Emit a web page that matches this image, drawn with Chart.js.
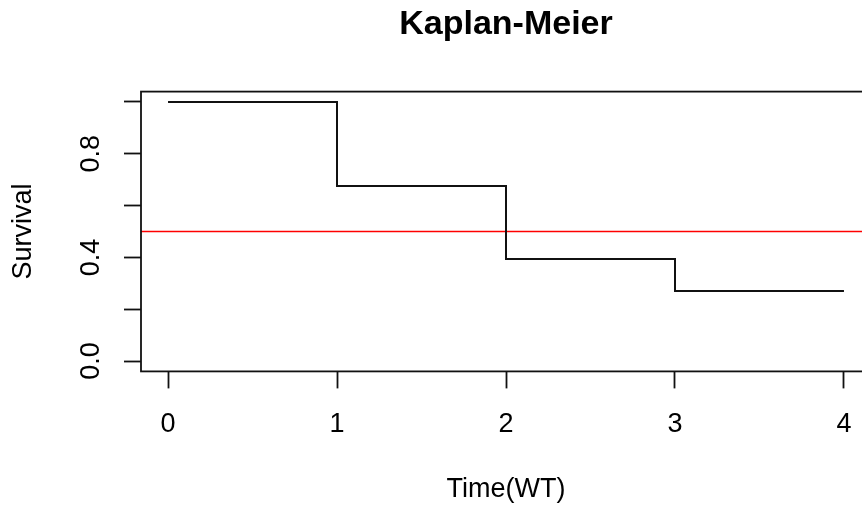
<!DOCTYPE html>
<html>
<head>
<meta charset="utf-8">
<script src="https://cdn.jsdelivr.net/npm/chart.js@4.4.1/dist/chart.umd.min.js"></script>
<style>
  html, body { margin: 0; padding: 0; overflow: hidden; background: #fff; width: 862px; height: 509px; }
  #wrap { position: absolute; left: 0; top: 0; width: 880px; height: 509px; }
</style>
</head>
<body>
<div id="wrap"><canvas id="c"></canvas></div>
<script>
// ---- data ----
const times = [0, 1, 2, 3, 4];
const survival = [1.0, 0.676, 0.394, 0.270, 0.270];
const medianLevel = 0.5;
const xTicks = [0, 1, 2, 3, 4];
const xTickLabels = ['0', '1', '2', '3', '4'];
const yTicks = [0, 0.2, 0.4, 0.6, 0.8, 1.0];
const yTickLabels = ['0.0', '', '0.4', '', '0.8', ''];
const xLimits = [-0.16, 4.16];
const yLimits = [-0.04, 1.04];
const chartTitle = 'Kaplan-Meier';
const xTitle = 'Time(WT)';
const yTitle = 'Survival';

const FONT = "'Liberation Sans', Arial, sans-serif";

const kmData = times.map((t, i) => ({ x: t, y: survival[i] }));
const medianData = xLimits.map(x => ({ x: x, y: medianLevel }));

const boxPlugin = {
  id: 'box',
  afterDraw(chart) {
    const { ctx, chartArea: a } = chart;
    ctx.save();
    ctx.strokeStyle = '#111';
    ctx.lineWidth = 1.8;
    ctx.strokeRect(a.left, a.top, a.right - a.left, a.bottom - a.top);
    ctx.restore();
  }
};

new Chart(document.getElementById('c'), {
  type: 'line',
  data: {
    datasets: [
      {
        data: kmData,
        stepped: 'before',
        borderColor: '#111',
        borderWidth: 2,
        pointRadius: 0,
        fill: false
      },
      {
        data: medianData,
        borderColor: '#ff0000',
        borderWidth: 1.7,
        pointRadius: 0,
        fill: false
      }
    ]
  },
  options: {
    responsive: true,
    maintainAspectRatio: false,
    animation: false,
    layout: { padding: { left: 0, right: 9, top: 0, bottom: 0 } },
    plugins: {
      legend: { display: false },
      tooltip: { enabled: false },
      title: {
        display: true,
        text: chartTitle,
        fullSize: false,
        color: '#000',
        font: { family: FONT, size: 34, weight: 'bold', lineHeight: 1.2 },
        padding: { top: 4, bottom: 46.8 }
      }
    },
    scales: {
      x: {
        type: 'linear',
        min: xLimits[0],
        max: xLimits[1],
        afterBuildTicks: s => { s.ticks = xTicks.map(v => ({ value: v })); },
        afterFit: s => { s.height = 137.6; },
        grid: { display: true, drawOnChartArea: false, drawTicks: true, tickLength: 17, tickColor: '#111', tickWidth: 1.8 },
        border: { display: false },
        ticks: {
          color: '#000',
          font: { family: FONT, size: 27, lineHeight: 1.2 },
          padding: 19.5,
          maxRotation: 0,
          autoSkip: false,
          callback: (v, i) => xTickLabels[i]
        },
        title: {
          display: true,
          text: xTitle,
          color: '#000',
          font: { family: FONT, size: 27, lineHeight: 1.2 },
          padding: { top: 0, bottom: 3 }
        }
      },
      y: {
        type: 'linear',
        min: yLimits[0],
        max: yLimits[1],
        afterBuildTicks: s => { s.ticks = yTicks.map(v => ({ value: v })); },
        afterFit: s => { s.width = 141; },
        grid: { display: true, drawOnChartArea: false, drawTicks: true, tickLength: 17, tickColor: '#111', tickWidth: 1.8 },
        border: { display: false },
        ticks: {
          color: '#000',
          font: { family: FONT, size: 27, lineHeight: 1.2 },
          padding: 13.5,
          minRotation: 90,
          maxRotation: 90,
          crossAlign: 'center',
          autoSkip: false,
          callback: (v, i) => yTickLabels[i]
        },
        title: {
          display: true,
          text: yTitle,
          color: '#000',
          font: { family: FONT, size: 27, lineHeight: 1.2 },
          padding: { top: 7, bottom: 0 }
        }
      }
    }
  },
  plugins: [boxPlugin]
});
</script>
</body>
</html>
